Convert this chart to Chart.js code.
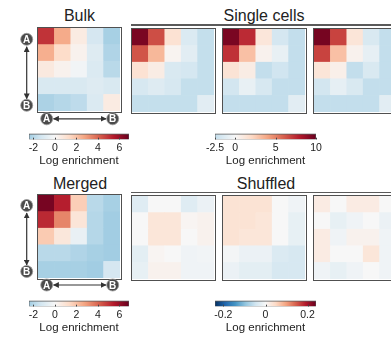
<!DOCTYPE html>
<html>
<head>
<meta charset="utf-8">
<script src="https://cdn.jsdelivr.net/npm/chart.js@4.4.0/dist/chart.umd.min.js"></script>
<style>
  body { margin: 0; width: 391px; height: 337px; overflow: hidden; background: #fff; position: relative;
         font-family: "Liberation Sans", Arial, sans-serif; color: #222; }
  .panel { position: absolute; width: 85px; height: 86px; box-sizing: border-box; border: 1.6px solid #505050; overflow: hidden; }
  .panel canvas, .cbar canvas { display: block; }
  .title { position: absolute; font-size: 16px; line-height: 1; transform: translateX(-50%); white-space: nowrap; }
  .rule { position: absolute; height: 1.8px; background: #5a5a5a; }
  .cbar { position: absolute; }
  #marks { position: absolute; left: 0; top: 0; }
</style>
</head>
<body>

<div class="title" style="left:79.5px;top:7.5px">Bulk</div>
<div class="title" style="left:264px;top:7.5px">Single cells</div>
<div class="title" style="left:80px;top:175.5px">Merged</div>
<div class="title" style="left:266px;top:176px">Shuffled</div>
<div class="rule" style="left:131px;width:260px;top:24px"></div>
<div class="rule" style="left:131px;width:260px;top:191.5px"></div>

<div class="panel" style="left:37px;top:27px"><canvas id="bulk" width="82" height="83"></canvas></div>
<div class="panel" style="left:131px;top:27.5px"><canvas id="single1" width="82" height="83"></canvas></div>
<div class="panel" style="left:222px;top:27.5px"><canvas id="single2" width="82" height="83"></canvas></div>
<div class="panel" style="left:313px;top:27.5px"><canvas id="single3" width="82" height="83"></canvas></div>
<div class="panel" style="left:37px;top:194px"><canvas id="merged" width="82" height="83"></canvas></div>
<div class="panel" style="left:131px;top:195px"><canvas id="shuf1" width="82" height="83"></canvas></div>
<div class="panel" style="left:222px;top:195px"><canvas id="shuf2" width="82" height="83"></canvas></div>
<div class="panel" style="left:313px;top:195px"><canvas id="shuf3" width="82" height="83"></canvas></div>

<div class="cbar" style="left:15px;top:132px"><canvas id="cbBulk" width="128" height="36"></canvas></div>
<div class="cbar" style="left:201px;top:132px"><canvas id="cbSingle" width="129" height="36"></canvas></div>
<div class="cbar" style="left:15px;top:299px"><canvas id="cbMerged" width="128" height="36"></canvas></div>
<div class="cbar" style="left:201px;top:298.5px"><canvas id="cbShuf" width="129" height="36"></canvas></div>

<svg id="marks" width="391" height="337"></svg>

<script>
// columns of every 5x5 map (A -> B)
var COLS = ['1', '2', '3', '4', '5'];

// log enrichment, rows top (A) to bottom (B)
var BULK = [
  [5.0, 2.6, 0.6, -1.2, -2.3],
  [2.5, 1.3, 0.3, -0.9, -2.1],
  [0.7, 0.3, -0.2, -1.0, -1.9],
  [-1.1, -1.1, -1.1, -0.9, -1.1],
  [-2.2, -2.0, -1.8, -1.0, 0.6]
];
var MERGED = [
  [6.6, 5.4, 1.7, -1.9, -2.3],
  [5.2, 3.4, 0.9, -2.0, -2.4],
  [1.8, 0.8, -0.5, -2.0, -2.4],
  [-1.9, -1.9, -2.1, -2.3, -2.4],
  [-2.3, -2.3, -2.3, -2.4, -1.2]
];
var SINGLE_1 = [
  [9.5, 6.5, 1.5, -1.5, -2.4],
  [6.3, 3.3, 0.3, -1.1, -2.4],
  [1.5, 0.8, -1.6, -1.8, -2.4],
  [-1.7, -1.3, -1.7, -2.4, -2.4],
  [-2.4, -2.4, -2.4, -2.4, -1.1]
];
var SINGLE_2 = [
  [9.5, 7.5, 1.2, -1.8, -2.45],
  [7.3, 3.0, 0.4, -0.8, -2.45],
  [1.4, 0.8, -2.45, -2.0, -2.45],
  [-1.9, -0.8, -1.7, -2.45, -2.45],
  [-2.45, -2.45, -2.45, -2.45, -1.1]
];
var SINGLE_3 = [
  [9.6, 6.8, 1.3, -1.6, -2.45],
  [6.8, 3.0, 0.4, -0.9, -2.45],
  [1.3, 0.6, -2.45, -1.6, -2.45],
  [-1.9, -0.9, -1.6, -2.45, -2.45],
  [-2.45, -2.45, -2.45, -2.45, -1.1]
];
var SHUFFLED_1 = [
  [-0.03, 0.0, 0.0, -0.03, -0.015],
  [0.0, 0.03, 0.03, 0.005, 0.01],
  [0.0, 0.03, 0.03, 0.0, 0.01],
  [-0.025, 0.005, 0.0, -0.01, -0.008],
  [-0.02, 0.01, 0.01, -0.01, -0.01]
];
var SHUFFLED_2 = [
  [0.035, 0.035, 0.035, 0.0, -0.01],
  [0.035, 0.035, 0.03, 0.0, -0.02],
  [0.035, 0.03, 0.03, 0.0, -0.02],
  [-0.005, -0.015, -0.015, -0.035, -0.04],
  [-0.015, -0.025, -0.025, -0.04, -0.04]
];
var SHUFFLED_3 = [
  [0.02, 0.0, 0.02, 0.02, 0.0],
  [0.0, -0.02, -0.01, 0.0, -0.015],
  [0.02, -0.01, 0.01, 0.01, -0.01],
  [0.02, 0.0, 0.0, 0.03, -0.01],
  [-0.01, -0.02, -0.01, 0.0, -0.01]
];

// colour bar ranges and tick labels
var BULK_RANGE = [-2.4, 6.9];
var BULK_TICKS = [-2, 0, 2, 4, 6];
var SINGLE_RANGE = [-2.5, 10];
var SINGLE_TICKS = [-2.5, 0, 5, 10];
var SHUF_RANGE = [-0.24, 0.24];
var SHUF_TICKS = [-0.2, 0, 0.2];

var FONT = '"Liberation Sans", Arial, sans-serif';

// RdBu, blue (low) to red (high)
var RDBU = ['#053061', '#2166ac', '#4393c3', '#92c5de', '#d1e5f0', '#f7f7f7',
            '#fddbc7', '#f4a582', '#d6604d', '#b2182b', '#67001f'];

function hex2rgb(h) {
    return [parseInt(h.substr(1, 2), 16), parseInt(h.substr(3, 2), 16), parseInt(h.substr(5, 2), 16)];
}

function rdbu(t) {
    t = Math.max(-1, Math.min(1, t));
    var p = (t + 1) / 2 * (RDBU.length - 1);
    var i = Math.min(Math.floor(p), RDBU.length - 2);
    var f = p - i;
    var a = hex2rgb(RDBU[i]), b = hex2rgb(RDBU[i + 1]);
    var c = a.map(function (v, k) { return Math.round(v + (b[k] - v) * f); });
    return 'rgb(' + c.join(',') + ')';
}

function heatmap(id, matrix, vmax) {
    var datasets = [];
    // stacked bars grow upwards, so the bottom row goes first
    for (var r = matrix.length - 1; r >= 0; r--) {
        datasets.push({
            data: matrix[r].map(function () { return 1; }),
            backgroundColor: matrix[r].map(function (v) { return rdbu(v / vmax); }),
            borderWidth: 0,
            barPercentage: 1,
            categoryPercentage: 1
        });
    }
    new Chart(document.getElementById(id), {
        type: 'bar',
        data: { labels: COLS, datasets: datasets },
        options: {
            responsive: false,
            animation: false,
            layout: { padding: 0 },
            plugins: { legend: { display: false }, tooltip: { enabled: false } },
            scales: {
                x: { display: false, stacked: true },
                y: { display: false, stacked: true, min: 0, max: matrix.length }
            }
        }
    });
}

// small tick marks inside the bottom edge of the colour bar
var innerTicks = {
    id: 'innerTicks',
    afterDatasetsDraw: function (chart) {
        var x = chart.scales.x, area = chart.chartArea, c = chart.ctx;
        c.save();
        c.strokeStyle = '#444';
        c.lineWidth = 1;
        x.ticks.forEach(function (t) {
            var px = Math.round(x.getPixelForValue(t.value)) + 0.5;
            c.beginPath();
            c.moveTo(px, area.bottom);
            c.lineTo(px, area.bottom - 1.8);
            c.stroke();
        });
        c.restore();
    }
};

function colorbar(id, range, ticks, vmax) {
    new Chart(document.getElementById(id), {
        type: 'bar',
        data: {
            labels: [''],
            datasets: [{
                data: [range],
                backgroundColor: function (ctx) {
                    var area = ctx.chart.chartArea;
                    if (!area) return '#ccc';
                    var g = ctx.chart.ctx.createLinearGradient(area.left, 0, area.right, 0);
                    for (var i = 0; i <= 40; i++) {
                        var v = range[0] + (range[1] - range[0]) * i / 40;
                        g.addColorStop(i / 40, rdbu(v / vmax));
                    }
                    return g;
                },
                borderColor: '#5a5a5a',
                borderWidth: { top: 1.4, bottom: 0.6, left: 0.8, right: 0.8 },
                borderSkipped: false,
                barPercentage: 1,
                categoryPercentage: 1
            }]
        },
        plugins: [innerTicks],
        options: {
            indexAxis: 'y',
            responsive: false,
            animation: false,
            layout: { padding: { left: 14, right: 14, top: 1.5 } },
            plugins: { legend: { display: false }, tooltip: { enabled: false } },
            scales: {
                y: { display: false },
                x: {
                    type: 'linear',
                    min: range[0],
                    max: range[1],
                    afterBuildTicks: function (scale) {
                        scale.ticks = ticks.map(function (v) { return { value: v }; });
                    },
                    afterFit: function (scale) { scale.height = 28.5; },
                    grid: { display: false, drawTicks: false },
                    border: { display: false },
                    ticks: {
                        autoSkip: false, maxRotation: 0, padding: 2.5, color: '#222',
                        font: { size: 10.5, family: FONT },
                        callback: function (v) { return String(v); }
                    },
                    title: {
                        display: true, text: 'Log enrichment', color: '#222', padding: 0,
                        font: { size: 11.5, family: FONT }
                    }
                }
            }
        }
    });
}

heatmap('bulk', BULK, BULK_RANGE[1]);
heatmap('merged', MERGED, BULK_RANGE[1]);
heatmap('single1', SINGLE_1, SINGLE_RANGE[1]);
heatmap('single2', SINGLE_2, SINGLE_RANGE[1]);
heatmap('single3', SINGLE_3, SINGLE_RANGE[1]);
heatmap('shuf1', SHUFFLED_1, SHUF_RANGE[1]);
heatmap('shuf2', SHUFFLED_2, SHUF_RANGE[1]);
heatmap('shuf3', SHUFFLED_3, SHUF_RANGE[1]);

colorbar('cbBulk', BULK_RANGE, BULK_TICKS, BULK_RANGE[1]);
colorbar('cbMerged', BULK_RANGE, BULK_TICKS, BULK_RANGE[1]);
colorbar('cbSingle', SINGLE_RANGE, SINGLE_TICKS, SINGLE_RANGE[1]);
colorbar('cbShuf', SHUF_RANGE, SHUF_TICKS, SHUF_RANGE[1]);

// A <-> B guides next to the bulk and merged maps
var NS = 'http://www.w3.org/2000/svg';
var svg = document.getElementById('marks');

function el(name, attrs, text) {
    var e = document.createElementNS(NS, name);
    for (var k in attrs) e.setAttribute(k, attrs[k]);
    if (text) e.textContent = text;
    svg.appendChild(e);
    return e;
}

var defs = el('defs', {});
var marker = document.createElementNS(NS, 'marker');
marker.setAttribute('id', 'head');
marker.setAttribute('viewBox', '0 0 10 10');
marker.setAttribute('refX', '9');
marker.setAttribute('refY', '5');
marker.setAttribute('markerWidth', '5');
marker.setAttribute('markerHeight', '5');
marker.setAttribute('orient', 'auto-start-reverse');
var tri = document.createElementNS(NS, 'path');
tri.setAttribute('d', 'M0,0 L10,5 L0,10 z');
tri.setAttribute('fill', '#333');
marker.appendChild(tri);
defs.appendChild(marker);

function badge(x, y, letter) {
    el('circle', { cx: x, cy: y, r: 6, fill: '#4a4a4a', stroke: '#999', 'stroke-width': 0.8 });
    el('text', { x: x, y: y + 3.6, 'text-anchor': 'middle', fill: '#fff',
                 'font-family': FONT, 'font-size': 10, 'font-weight': 'bold' }, letter);
}

function guides(top) {
    // vertical
    el('line', { x1: 26.7, y1: top + 20, x2: 26.7, y2: top + 72, stroke: '#333', 'stroke-width': 1.2,
                 'marker-start': 'url(#head)', 'marker-end': 'url(#head)' });
    badge(26.7, top + 12.5, 'A');
    badge(26.7, top + 78.5, 'B');
    // horizontal
    el('line', { x1: 53.5, y1: top + 92, x2: 106, y2: top + 92, stroke: '#333', 'stroke-width': 1.2,
                 'marker-start': 'url(#head)', 'marker-end': 'url(#head)' });
    badge(46.7, top + 92, 'A');
    badge(112.7, top + 92, 'B');
}

guides(26.8);
guides(193);
</script>
</body>
</html>
